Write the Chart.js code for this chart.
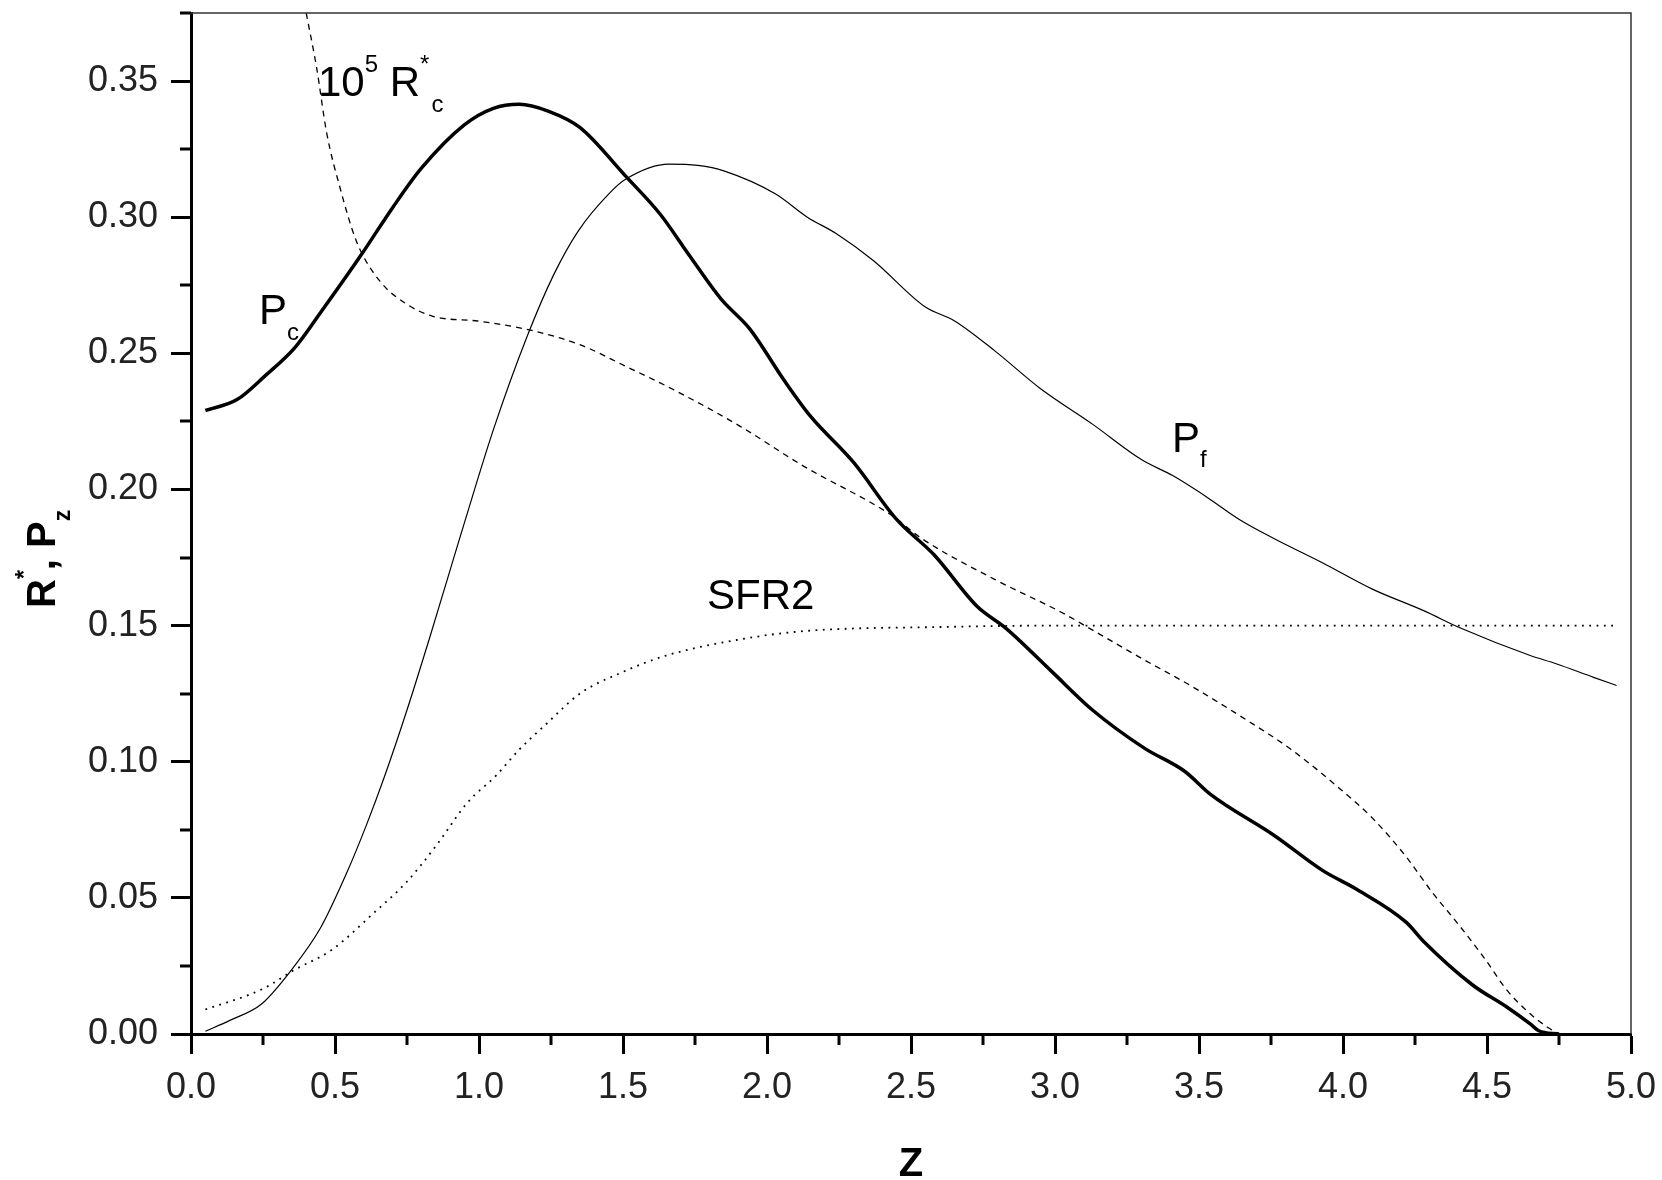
<!DOCTYPE html>
<html>
<head>
<meta charset="utf-8">
<title>R*, Pz vs Z</title>
<script src="https://cdn.jsdelivr.net/npm/chart.js@4.4.1/dist/chart.umd.min.js"></script>
<style>
    html, body { margin: 0; padding: 0; background: #fff; }
    canvas { display: block; }
</style>
</head>
<body>
<canvas id="grafica" width="1662" height="1180"></canvas>
<script>
// Pc (thick solid)
const pcZ = [0.05, 0.16, 0.26, 0.36, 0.45, 0.59, 0.70, 0.80, 0.95, 1.05, 1.14, 1.24, 1.35, 1.51, 1.63, 1.73, 1.84, 1.94,
    2.06, 2.15, 2.30, 2.45, 2.58, 2.73, 2.83, 2.99, 3.13, 3.31, 3.45, 3.54, 3.76, 3.93, 4.05, 4.22, 4.28, 4.45, 4.57, 4.65, 4.68, 4.75];
const pcVal = [0.229, 0.233, 0.242, 0.252, 0.265, 0.286, 0.3035, 0.318, 0.334, 0.340, 0.3415, 0.339, 0.333, 0.315, 0.301, 0.286, 0.270, 0.259,
    0.240, 0.227, 0.210, 0.189, 0.176, 0.157, 0.149, 0.133, 0.119, 0.105, 0.0965, 0.088, 0.073, 0.060, 0.053, 0.041, 0.034, 0.018, 0.0098, 0.0037, 0.0012, 0.0];

// Pf (thin solid)
const pfZ = [0.05, 0.135, 0.245, 0.345, 0.45, 0.54, 0.61, 0.67, 0.75, 0.83, 0.89, 0.95, 1.05, 1.17, 1.26, 1.345, 1.455, 1.51, 1.66, 1.76, 1.85,
    2.03, 2.14, 2.24, 2.37, 2.55, 2.65, 2.79, 2.95, 3.13, 3.30, 3.41, 3.53, 3.64, 3.76, 3.93, 4.10, 4.28, 4.41, 4.65, 4.74, 4.87, 4.95];
const pfVal = [0.001, 0.005, 0.011, 0.023, 0.039, 0.059, 0.077, 0.094, 0.119, 0.146, 0.167, 0.188, 0.222, 0.257, 0.279, 0.295, 0.309, 0.314, 0.3195, 0.319, 0.317,
    0.3085, 0.300, 0.294, 0.284, 0.267, 0.262, 0.251, 0.237, 0.224, 0.211, 0.205, 0.197, 0.189, 0.182, 0.173, 0.1635, 0.1555, 0.149, 0.139, 0.136, 0.131, 0.128];

// 10^5 Rc* (dashed)
const rcZ = [0.40, 0.436, 0.471, 0.517, 0.575, 0.656, 0.75, 0.84, 1.00, 1.17, 1.35, 1.51, 1.66, 1.91, 2.12, 2.44, 2.53, 2.79,
    3.02, 3.12, 3.30, 3.47, 3.64, 3.82, 3.99, 4.105, 4.22, 4.31, 4.395, 4.49, 4.57, 4.65, 4.71, 4.75];
const rcVal = [0.375, 0.355, 0.331, 0.311, 0.291, 0.2765, 0.268, 0.2636, 0.2618, 0.2587, 0.2532, 0.2452, 0.2375, 0.223, 0.209, 0.190, 0.1825, 0.167,
    0.155, 0.149, 0.138, 0.128, 0.117, 0.1045, 0.090, 0.079, 0.065, 0.052, 0.041, 0.028, 0.016, 0.0074, 0.0025, 0.0];

// SFR2 (dotted)
const sfrZ = [0.05, 0.25, 0.355, 0.49, 0.63, 0.75, 0.85, 0.96, 1.06, 1.14, 1.235, 1.35, 1.50, 1.65, 1.91, 2.13, 2.61, 3.0, 4.0, 4.95];
const sfrVal = [0.009, 0.0166, 0.0233, 0.031, 0.044, 0.056, 0.069, 0.085, 0.095, 0.1045, 0.114, 0.125, 0.133, 0.139, 0.145, 0.148, 0.1495, 0.150, 0.150, 0.150];

// ejes
const xTicks = [0, 0.5, 1, 1.5, 2, 2.5, 3, 3.5, 4, 4.5, 5];
const xMinor = [0.25, 0.75, 1.25, 1.75, 2.25, 2.75, 3.25, 3.75, 4.25, 4.75];
const yTicks = [0, 0.05, 0.10, 0.15, 0.20, 0.25, 0.30, 0.35];
const yMinor = [0.025, 0.075, 0.125, 0.175, 0.225, 0.275, 0.325, 0.375];

// etiquetas dentro del grafico: partes de texto + posicion en datos
const etiquetas = [
    { z: 0.441, v: 0.3444, partes: [{ t: '10' }, { t: '5', sup: true }, { t: ' R' }, { t: '*', sup: true }, { t: 'c', sub: true, dx: 2 }] },
    { z: 0.236, v: 0.2607, partes: [{ t: 'P' }, { t: 'c', sub: true }] },
    { z: 3.406, v: 0.2139, partes: [{ t: 'P' }, { t: 'f', sub: true }] },
    { z: 1.792, v: 0.156, partes: [{ t: 'SFR2' }] }
];

const FAMILIA = '"Liberation Sans", Arial, Helvetica, sans-serif';

const puntos = (zs, vs) => zs.map((z, i) => ({ x: z, y: vs[i] }));

const textoRico = (ctx, partes, x, y, size, bold) => {
    let cx = x;
    partes.forEach(p => {
        const chico = p.sup || p.sub;
        const s = chico ? Math.round(size * 0.58) : size;
        ctx.font = `${bold ? 'bold ' : ''}${s}px ${FAMILIA}`;
        const dy = p.sup ? -size * 0.57 : p.sub ? size * 0.37 : 0;
        cx += p.dx || 0;
        ctx.fillText(p.t, cx, y + dy);
        cx += ctx.measureText(p.t).width;
    });
};

const extras = {
    id: 'extras',
    afterDraw(chart) {
        const { ctx, chartArea: a, scales: { x, y } } = chart;
        ctx.save();

        // marco superior y derecho
        ctx.strokeStyle = '#333';
        ctx.lineWidth = 1.5;
        ctx.beginPath();
        ctx.moveTo(a.left, a.top);
        ctx.lineTo(a.right, a.top);
        ctx.lineTo(a.right, a.bottom);
        ctx.stroke();

        // ticks menores
        ctx.strokeStyle = '#000';
        ctx.lineWidth = 3;
        xMinor.forEach(v => {
            const px = Math.round(x.getPixelForValue(v));
            ctx.beginPath();
            ctx.moveTo(px, a.bottom);
            ctx.lineTo(px, a.bottom + 11);
            ctx.stroke();
        });
        yMinor.forEach(v => {
            const py = Math.round(y.getPixelForValue(v));
            ctx.beginPath();
            ctx.moveTo(a.left, py);
            ctx.lineTo(a.left - 11, py);
            ctx.stroke();
        });

        // etiquetas de curvas
        ctx.fillStyle = '#000';
        ctx.textBaseline = 'alphabetic';
        ctx.textAlign = 'left';
        etiquetas.forEach(e => {
            textoRico(ctx, e.partes, x.getPixelForValue(e.z), y.getPixelForValue(e.v), 42, false);
        });

        // titulo eje Y: R*, Pz
        ctx.translate(55, 608);
        ctx.rotate(-Math.PI / 2);
        textoRico(ctx, [{ t: 'R' }, { t: '*', sup: true }, { t: ', P' }, { t: 'z', sub: true }], 0, 0, 40, true);

        ctx.restore();
    }
};

const estiloTicks = { family: FAMILIA, size: 36 };

new Chart(document.getElementById('grafica').getContext('2d'), {
    type: 'line',
    data: {
        datasets: [
            { label: 'Pc', data: puntos(pcZ, pcVal), borderColor: '#000', borderWidth: 3.5 },
            { label: 'Pf', data: puntos(pfZ, pfVal), borderColor: '#000', borderWidth: 1.2 },
            { label: '10^5 Rc*', data: puntos(rcZ, rcVal), borderColor: '#000', borderWidth: 1.3, borderDash: [6, 5] },
            { label: 'SFR2', data: puntos(sfrZ, sfrVal), borderColor: '#000', borderWidth: 1.8, borderDash: [1.8, 5.5] }
        ]
    },
    options: {
        responsive: false,
        animation: false,
        layout: { padding: { top: 13, right: 31, left: 0, bottom: 0 } },
        elements: { point: { radius: 0 }, line: { cubicInterpolationMode: 'monotone', fill: false } },
        plugins: { legend: { display: false }, tooltip: { enabled: false } },
        scales: {
            x: {
                type: 'linear',
                min: 0,
                max: 5,
                afterBuildTicks: s => { s.ticks = xTicks.map(v => ({ value: v })); },
                afterFit: s => { s.height = 146; s.paddingLeft = 0; s.paddingRight = 0; },
                ticks: { callback: v => v.toFixed(1), font: estiloTicks, color: '#222', padding: 12, maxRotation: 0, autoSkip: false },
                grid: { drawOnChartArea: false, tickLength: 20, tickWidth: 3, tickColor: '#000' },
                border: { color: '#000', width: 3 },
                title: { display: true, text: 'Z', color: '#000', font: { family: FAMILIA, size: 40, weight: 'bold', lineHeight: 1 }, padding: { top: 0, bottom: -5 } }
            },
            y: {
                type: 'linear',
                min: 0,
                max: 0.375,
                afterBuildTicks: s => { s.ticks = yTicks.map(v => ({ value: v })); },
                afterFit: s => { s.width = 191; s.paddingTop = 0; s.paddingBottom = 0; },
                ticks: { callback: v => v.toFixed(2), font: estiloTicks, color: '#222', padding: 13, autoSkip: false },
                grid: { drawOnChartArea: false, tickLength: 20, tickWidth: 3, tickColor: '#000' },
                border: { color: '#000', width: 3 }
            }
        }
    },
    plugins: [extras]
});
</script>
</body>
</html>
